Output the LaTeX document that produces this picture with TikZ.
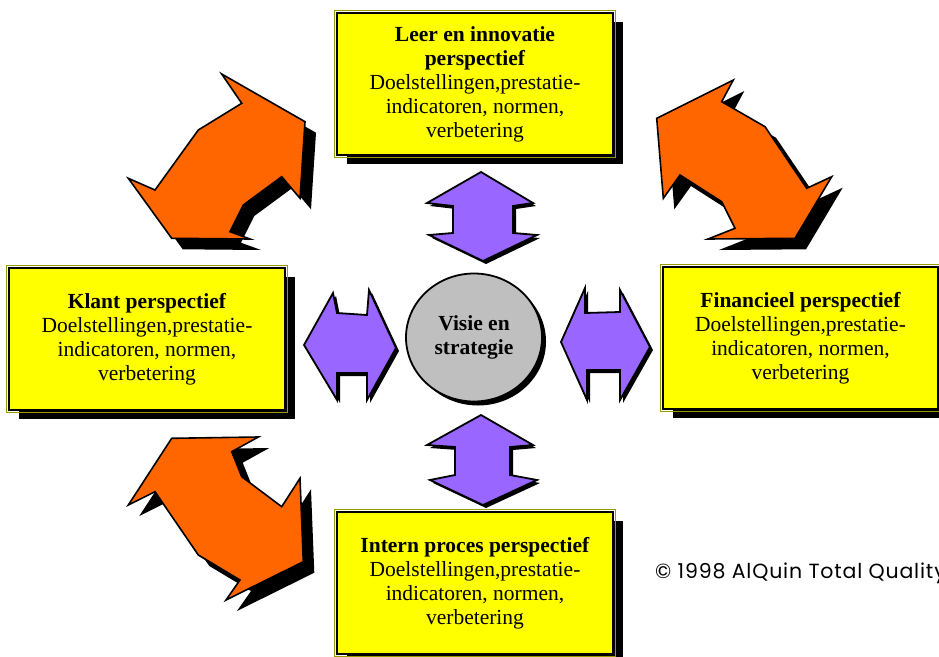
\documentclass[tikz,border=0pt]{standalone}
\usepackage{fontspec}
\setmainfont{Liberation Serif}
\newfontfamily\crfont[LetterSpace=4]{Poppins}
\usetikzlibrary{shapes.geometric,shadows}
\definecolor{boxyellow}{HTML}{FFFF00}
\definecolor{arroworange}{HTML}{FF6600}
\definecolor{arrowpurple}{HTML}{9966FF}
\definecolor{circgray}{HTML}{BFBFBF}
\definecolor{boxolive}{HTML}{999900}
\begin{document}
\begin{tikzpicture}[x=1pt,y=-1pt,
  persbox/.style={rectangle, draw=black, line width=2.5pt, fill=boxyellow,
    minimum width=276pt, minimum height=142pt, align=center, inner sep=2pt,
    font=\fontsize{21.5}{24}\selectfont,
    drop shadow={shadow xshift=10pt, shadow yshift=-9pt, fill=black, opacity=1}},
  orangearrow/.style={fill=arroworange, draw=black, line width=1.6pt},
  orangeshadow/.style={fill=black, shift={(11,11)}},
  purplearrow/.style={fill=arrowpurple, draw=black, line width=1.8pt},
  purpleshadow/.style={fill=black, shift={(3,3)}},
]
\useasboundingbox (0,0) rectangle (939,656);
\fill[white] (0,0) rectangle (939,656);

% orange curved arrows: shadows
\fill[orangeshadow] (221.7,74) -- (305,121.7) -- (300,198.3) -- (281.7,176.7) -- (243.3,205) -- (230,231.7) -- (250,239) -- (171.7,238.3) -- (128.3,178.3) -- (155,190) -- (198.3,130) -- (241.7,103.3) -- cycle;
\fill[orangeshadow] (656.7,118.3) -- (733.3,80) -- (721.7,101.7) -- (765,126.7) -- (806.7,188.3) -- (831.7,176.7) -- (795,238.3) -- (708,239) -- (735,228.3) -- (721.7,201.7) -- (680,175) -- (663.3,198.3) -- cycle;
\fill[orangeshadow] (171.7,438.3) -- (258.3,437) -- (231.7,451.7) -- (241.7,476.7) -- (281.7,506.7) -- (300,478.3) -- (303.3,561.7) -- (226,600) -- (240,580) -- (198.3,555) -- (155,491.7) -- (128.3,505) -- cycle;
% orange curved arrows
\filldraw[orangearrow] (221.7,74) -- (305,121.7) -- (300,198.3) -- (281.7,176.7) -- (243.3,205) -- (230,231.7) -- (250,239) -- (171.7,238.3) -- (128.3,178.3) -- (155,190) -- (198.3,130) -- (241.7,103.3) -- cycle;
\filldraw[orangearrow] (656.7,118.3) -- (733.3,80) -- (721.7,101.7) -- (765,126.7) -- (806.7,188.3) -- (831.7,176.7) -- (795,238.3) -- (708,239) -- (735,228.3) -- (721.7,201.7) -- (680,175) -- (663.3,198.3) -- cycle;
\filldraw[orangearrow] (171.7,438.3) -- (258.3,437) -- (231.7,451.7) -- (241.7,476.7) -- (281.7,506.7) -- (300,478.3) -- (303.3,561.7) -- (226,600) -- (240,580) -- (198.3,555) -- (155,491.7) -- (128.3,505) -- cycle;

% purple double arrows: shadows
\fill[purpleshadow] (481,172) -- (427,203) -- (453,206) -- (453,233) -- (429,235) -- (483,261) -- (537,235) -- (513,233) -- (513,206) -- (533,203) -- cycle;
\fill[purpleshadow] (481,415) -- (427,445) -- (455,447) -- (455,475) -- (430,480) -- (483,505) -- (537,480) -- (510,475) -- (510,447) -- (533,445) -- cycle;
\fill[purpleshadow] (304,345) -- (333,293) -- (337,313) -- (367,315) -- (369,290) -- (396,348) -- (367,400) -- (367,373) -- (337,373) -- (337,400) -- cycle;
\fill[purpleshadow] (561,342) -- (585,288) -- (585,313) -- (620,312) -- (620,290) -- (650,347) -- (620,400) -- (620,370) -- (587,370) -- (587,400) -- cycle;
% purple double arrows
\filldraw[purplearrow] (481,172) -- (427,203) -- (453,206) -- (453,233) -- (429,235) -- (483,261) -- (537,235) -- (513,233) -- (513,206) -- (533,203) -- cycle;
\filldraw[purplearrow] (481,415) -- (427,445) -- (455,447) -- (455,475) -- (430,480) -- (483,505) -- (537,480) -- (510,475) -- (510,447) -- (533,445) -- cycle;
\filldraw[purplearrow] (304,345) -- (333,293) -- (337,313) -- (367,315) -- (369,290) -- (396,348) -- (367,400) -- (367,373) -- (337,373) -- (337,400) -- cycle;
\filldraw[purplearrow] (561,342) -- (585,288) -- (585,313) -- (620,312) -- (620,290) -- (650,347) -- (620,400) -- (620,370) -- (587,370) -- (587,400) -- cycle;

% centre
\node[ellipse, draw=black, line width=1.8pt, fill=circgray,
  minimum width=136pt, minimum height=128pt, inner sep=0pt, align=center,
  font=\fontsize{21.5}{24}\selectfont\bfseries,
  drop shadow={shadow xshift=4pt, shadow yshift=-4pt, fill=black, opacity=1}]
  (visie) at (474,337.5) {Visie en\\strategie};

% perspective boxes
\node[persbox] (leer) at (475,84) {\textbf{Leer en innovatie}\\\textbf{perspectief}\\Doelstellingen,prestatie-\\indicatoren, normen,\\verbetering};
\node[persbox] (klant) at (147,339) {\textbf{Klant perspectief}\\Doelstellingen,prestatie-\\indicatoren, normen,\\verbetering};
\node[persbox, minimum width=275pt] (fin) at (800.5,338) {\textbf{Financieel perspectief}\\Doelstellingen,prestatie-\\indicatoren, normen,\\verbetering};
\node[persbox] (intern) at (475,583) {\textbf{Intern proces perspectief}\\Doelstellingen,prestatie-\\indicatoren, normen,\\verbetering};

% thin olive outer edges of the boxes
\foreach \b in {leer,klant,fin,intern}
  \draw[boxolive, line width=0.7pt] ([shift={(-1.4,1.4)}]\b.south west) rectangle ([shift={(1.4,-1.4)}]\b.north east);

% copyright
\node[anchor=west, inner sep=0pt, font=\crfont\fontsize{20.5}{22}\selectfont] (copy) at (655,573) {© 1998 AlQuin Total Quality};
\end{tikzpicture}
\end{document}
